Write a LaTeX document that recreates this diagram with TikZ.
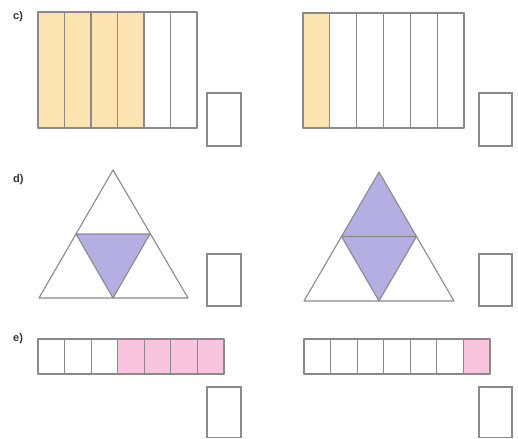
\documentclass[tikz,border=0pt]{standalone}
\usepackage{fontspec}
\setmainfont{Liberation Sans}
\definecolor{edge}{HTML}{8A8A8A}
\definecolor{peach}{HTML}{FDE3B0}
\definecolor{lilac}{HTML}{B4AEE2}
\definecolor{rose}{HTML}{F9C4DD}
\tikzset{
  cell/.style={draw=edge, line width=1.1pt, line join=round},
  answer/.style={draw=edge, line width=1.1pt},
  lbl/.style={anchor=west, font=\fontsize{11}{12}\selectfont\bfseries, text=black!80, inner sep=0pt},
}
\begin{document}
\begin{tikzpicture}[x=1pt,y=-1pt]
\useasboundingbox (0,0) rectangle (518,438);
% labels
\node[lbl] (lc) at (13,17) {c)};
\node[lbl] (ld) at (13,180) {d)};
\node[lbl] (le) at (13,339) {e)};
% c) left: 6 columns, first 4 filled
\foreach \i in {0,...,5}{
  \pgfmathsetmacro{\xa}{38+\i*26.5}
  \pgfmathsetmacro{\xb}{38+(\i+1)*26.5}
  \ifnum\i<4
    \fill[peach] (\xa,12) rectangle (\xb,128);
  \fi
}
\foreach \i in {0,...,5}{
  \pgfmathsetmacro{\xa}{38+\i*26.5}
  \pgfmathsetmacro{\xb}{38+(\i+1)*26.5}
  \draw[cell] (\xa,12) rectangle (\xb,128);
}
\draw[answer] (207,93) rectangle (241,146);
% c) right: 6 columns, first filled
\fill[peach] (303,13) rectangle (329.8,128);
\foreach \i in {0,...,5}{
  \pgfmathsetmacro{\xa}{303+\i*26.83}
  \pgfmathsetmacro{\xb}{303+(\i+1)*26.83}
  \draw[cell] (\xa,13) rectangle (\xb,128);
}
\draw[answer] (479,93) rectangle (512,146);
% d) left triangle
\fill[lilac] (76,234) -- (150,234) -- (113,298) -- cycle;
\draw[cell] (113,170) -- (188,298) -- (39,298) -- cycle;
\draw[cell] (76,234) -- (150,234) -- (113,298) -- cycle;
\draw[answer] (207,254) rectangle (241,306);
% d) right triangle
\fill[lilac] (379,172) -- (416.5,236.5) -- (379,301) -- (341.5,236.5) -- cycle;
\draw[cell] (379,172) -- (454,301) -- (304,301) -- cycle;
\draw[cell] (341.5,236.5) -- (416.5,236.5) -- (379,301) -- cycle;
\draw[answer] (479,254) rectangle (512,306);
% e) left strip: 7 cells, last 4 filled
\foreach \i in {3,...,6}{
  \pgfmathsetmacro{\xa}{38+\i*26.57}
  \pgfmathsetmacro{\xb}{38+(\i+1)*26.57}
  \fill[rose] (\xa,339) rectangle (\xb,374);
}
\foreach \i in {0,...,6}{
  \pgfmathsetmacro{\xa}{38+\i*26.57}
  \pgfmathsetmacro{\xb}{38+(\i+1)*26.57}
  \draw[cell] (\xa,339) rectangle (\xb,374);
}
\draw[answer] (207,387) rectangle (241,437.5);
% e) right strip: 7 cells, last filled
\fill[rose] (463.4,339) rectangle (490,374);
\foreach \i in {0,...,6}{
  \pgfmathsetmacro{\xa}{304+\i*26.57}
  \pgfmathsetmacro{\xb}{304+(\i+1)*26.57}
  \draw[cell] (\xa,339) rectangle (\xb,374);
}
\draw[answer] (479,387) rectangle (512,437.5);
\end{tikzpicture}
\end{document}
